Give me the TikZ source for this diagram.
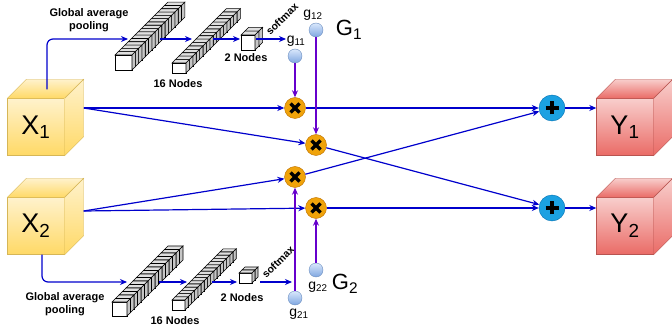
\documentclass[tikz,border=0pt]{standalone}
\usepackage{fontspec}
\setmainfont{Liberation Sans}
\usepackage{tikz}
\usetikzlibrary{arrows.meta}

\definecolor{linkblue}{HTML}{0000CC}
\definecolor{gateviolet}{HTML}{6600CC}
\definecolor{xtop}{HTML}{FFF2CC}
\definecolor{xbot}{HTML}{FFD966}
\definecolor{xline}{HTML}{D6B656}
\definecolor{ytop}{HTML}{F8CECC}
\definecolor{ybot}{HTML}{EA6B66}
\definecolor{yline}{HTML}{B85450}
\definecolor{multfill}{HTML}{F0A30A}
\definecolor{multline}{HTML}{BD7000}
\definecolor{sumfill}{HTML}{1BA1E2}
\definecolor{sumline}{HTML}{006EAF}
\definecolor{gtop}{HTML}{DAE8FC}
\definecolor{gbot}{HTML}{7EA6E0}
\definecolor{gline}{HTML}{6C8EBF}

\tikzset{
  link/.style={draw=linkblue, line width=1.2pt, -{Stealth[length=7pt,width=6pt]}},
  gatelink/.style={link, draw=gateviolet},
  xcube/.style={draw=xline, top color=xtop, bottom color=xbot, minimum width=57pt,
    minimum height=57pt, inner sep=0pt, font=\fontsize{27}{27}\selectfont},
  xside/.style={draw=xline, top color=xtop, bottom color=xbot},
  ycube/.style={draw=yline, top color=ytop, bottom color=ybot, minimum width=57pt,
    minimum height=57pt, inner sep=0pt, font=\fontsize{27}{27}\selectfont},
  yside/.style={draw=yline, top color=ytop, bottom color=ybot},
  slice/.style={draw=black, line width=0.6pt},
  mult/.style={circle, draw=multline, fill=multfill, minimum size=21pt, inner sep=0pt,
    path picture={
      \draw[draw=black, line width=3.2pt] ([shift={(-4.5pt,-4.5pt)}]path picture bounding box.center)
        -- ([shift={(4.5pt,4.5pt)}]path picture bounding box.center);
      \draw[draw=black, line width=3.2pt] ([shift={(-4.5pt,4.5pt)}]path picture bounding box.center)
        -- ([shift={(4.5pt,-4.5pt)}]path picture bounding box.center);}},
  sum/.style={circle, draw=sumline, fill=sumfill, minimum size=26pt, inner sep=0pt,
    path picture={
      \draw[draw=black, line width=3.2pt] ([xshift=-6.5pt]path picture bounding box.center)
        -- ([xshift=6.5pt]path picture bounding box.center);
      \draw[draw=black, line width=3.2pt] ([yshift=-6.5pt]path picture bounding box.center)
        -- ([yshift=6.5pt]path picture bounding box.center);}},
  gatecoef/.style={circle, draw=gline, top color=gtop, bottom color=gbot, minimum size=14pt, inner sep=0pt},
  coeftext/.style={font=\fontsize{14}{14}\selectfont, inner sep=0pt},
  groupname/.style={font=\fontsize{22}{22}\selectfont, inner sep=0pt},
  word/.style={font=\fontsize{11}{13}\selectfont\bfseries, align=center, inner sep=0pt}
}

\begin{document}
\begin{tikzpicture}[x=1pt, y=-1pt]
  \useasboundingbox (0,0) rectangle (672,331);

  % stacks of dense nodes
  \foreach \sx/\sy/\sn/\sw/\sh/\sd in {115/70/16/17/15/3.3, 172/73/16/14/10/3.4, 241/50/2/14/15/3.8,
                                       112/316/16/15/14/3.5, 172/310/16/13/10/3.2, 239/283/2/13/10/3}{
    \foreach \i in {\sn,...,1}{
      \begin{scope}[shift={({\sx+(\i-1)*\sd},{\sy-(\i-1)*\sd})}]
        \filldraw[slice, fill=white] (0,0) rectangle (\sw,-\sh);
        \filldraw[slice, fill=gray!25] (0,-\sh) -- (\sd,-\sh-\sd) -- (\sw+\sd,-\sh-\sd) -- (\sw,-\sh) -- cycle;
        \filldraw[slice, fill=gray!45] (\sw,0) -- (\sw+\sd,-\sd) -- (\sw+\sd,-\sh-\sd) -- (\sw,-\sh) -- cycle;
      \end{scope}
    }
  }

  % input and output cubes
  \node[xcube] (X1) at (36,127) {X\textsubscript{1}};
  \node[xcube] (X2) at (36,226) {X\textsubscript{2}};
  \node[ycube] (Y1) at (625,127) {Y\textsubscript{1}};
  \node[ycube] (Y2) at (625,226) {Y\textsubscript{2}};
  \foreach \c in {X1,X2}{
    \draw[xside] (\c.north west) -- ++(19,-19) -- ([shift={(19,-19)}]\c.north east) -- (\c.north east) -- cycle;
    \draw[xside] (\c.north east) -- ++(19,-19) -- ([shift={(19,-19)}]\c.south east) -- (\c.south east) -- cycle;
  }
  \foreach \c in {Y1,Y2}{
    \draw[yside] (\c.north west) -- ++(19,-19) -- ([shift={(19,-19)}]\c.north east) -- (\c.north east) -- cycle;
    \draw[yside] (\c.north east) -- ++(19,-19) -- ([shift={(19,-19)}]\c.south east) -- (\c.south east) -- cycle;
  }

  % gates
  \node[gatecoef] (g11) at (295,56) {};
  \node[gatecoef] (g12) at (316,30) {};
  \node[gatecoef] (g21) at (295,298) {};
  \node[gatecoef] (g22) at (316,270) {};
  \node[coeftext] (g11name) at (296,41) {g\textsubscript{11}};
  \node[coeftext] (g12name) at (313,15) {g\textsubscript{12}};
  \node[coeftext] (g21name) at (299,314) {g\textsubscript{21}};
  \node[coeftext] (g22name) at (318,287) {g\textsubscript{22}};
  \node[groupname] (G1name) at (349,30) {G\textsubscript{1}};
  \node[groupname] (G2name) at (345,284) {G\textsubscript{2}};

  \node[mult] (M1) at (295,108) {};
  \node[mult] (M2) at (316,145) {};
  \node[mult] (M3) at (295,177) {};
  \node[mult] (M4) at (316,208) {};
  \node[sum] (P1) at (552,108) {};
  \node[sum] (P2) at (552,208) {};

  % labels
  \node[word] (poolA) at (89,20) {Global average\\pooling};
  \node[word] (sixteenA) at (178,84) {16 Nodes};
  \node[word] (twoA) at (246,58) {2 Nodes};
  \node[word, font=\fontsize{10.5}{12}\selectfont\bfseries, rotate=45] (softmaxA) at (282,19) {softmax};
  \node[word] (poolB) at (65,304) {Global average\\pooling};
  \node[word] (sixteenB) at (175,321) {16 Nodes};
  \node[word] (twoB) at (242,298) {2 Nodes};
  \node[word, font=\fontsize{10.5}{12}\selectfont\bfseries, rotate=45] (softmaxB) at (278,262) {softmax};

  \coordinate (X1out) at ([shift={(19,-19)}]X1.east);
  \coordinate (X2out) at ([shift={(19,-15)}]X2.east);
  \coordinate (X1up) at ([shift={(11,-9)}]X1.north);
  \coordinate (X2down) at ([xshift=6pt]X2.south);
  \coordinate (gapA) at (128,39);
  \coordinate (gapAo) at (160,39);
  \coordinate (fcAi) at (192,39);
  \coordinate (fcAo) at (213,39);
  \coordinate (twoAi) at (240,39);
  \coordinate (twoAo) at (256,39);
  \coordinate (softA) at (286,39);
  \coordinate (gapB) at (127,282);
  \coordinate (gapBo) at (159,282);
  \coordinate (fcBi) at (187,282);
  \coordinate (fcBo) at (212,282);
  \coordinate (twoBi) at (237,282);
  \coordinate (twoBo) at (260,282);
  \coordinate (softB) at (292,282);

  % connectors
  \draw[link, rounded corners=6pt] (X1up) |- (gapA);
  \draw[link] (gapAo) -- (fcAi);
  \draw[link] (fcAo) -- (twoAi);
  \draw[link] (twoAo) -- (softA);
  \draw[link, rounded corners=6pt] (X2down) |- (gapB);
  \draw[link] (gapBo) -- (fcBi);
  \draw[link] (fcBo) -- (twoBi);
  \draw[link] (twoBo) -- (softB);

  \draw[link] (X1out) -- (M1);
  \draw[link] (X1out) -- (M2);
  \draw[link] (X2out) -- (M3);
  \draw[link] (X2out) -- (M4);
  \draw[link] (M1) -- (P1);
  \draw[link] (M2) -- (P2);
  \draw[link] (M3) -- (P1);
  \draw[link] (M4) -- (P2);
  \draw[link] (P1) -- (P1 -| Y1.west);
  \draw[link] (P2) -- (P2 -| Y2.west);

  \draw[gatelink] (g11) -- (M1);
  \draw[gatelink] (g12) -- (M2);
  \draw[gatelink] (g21) -- (M3);
  \draw[gatelink] (g22) -- (M4);
\end{tikzpicture}
\end{document}
